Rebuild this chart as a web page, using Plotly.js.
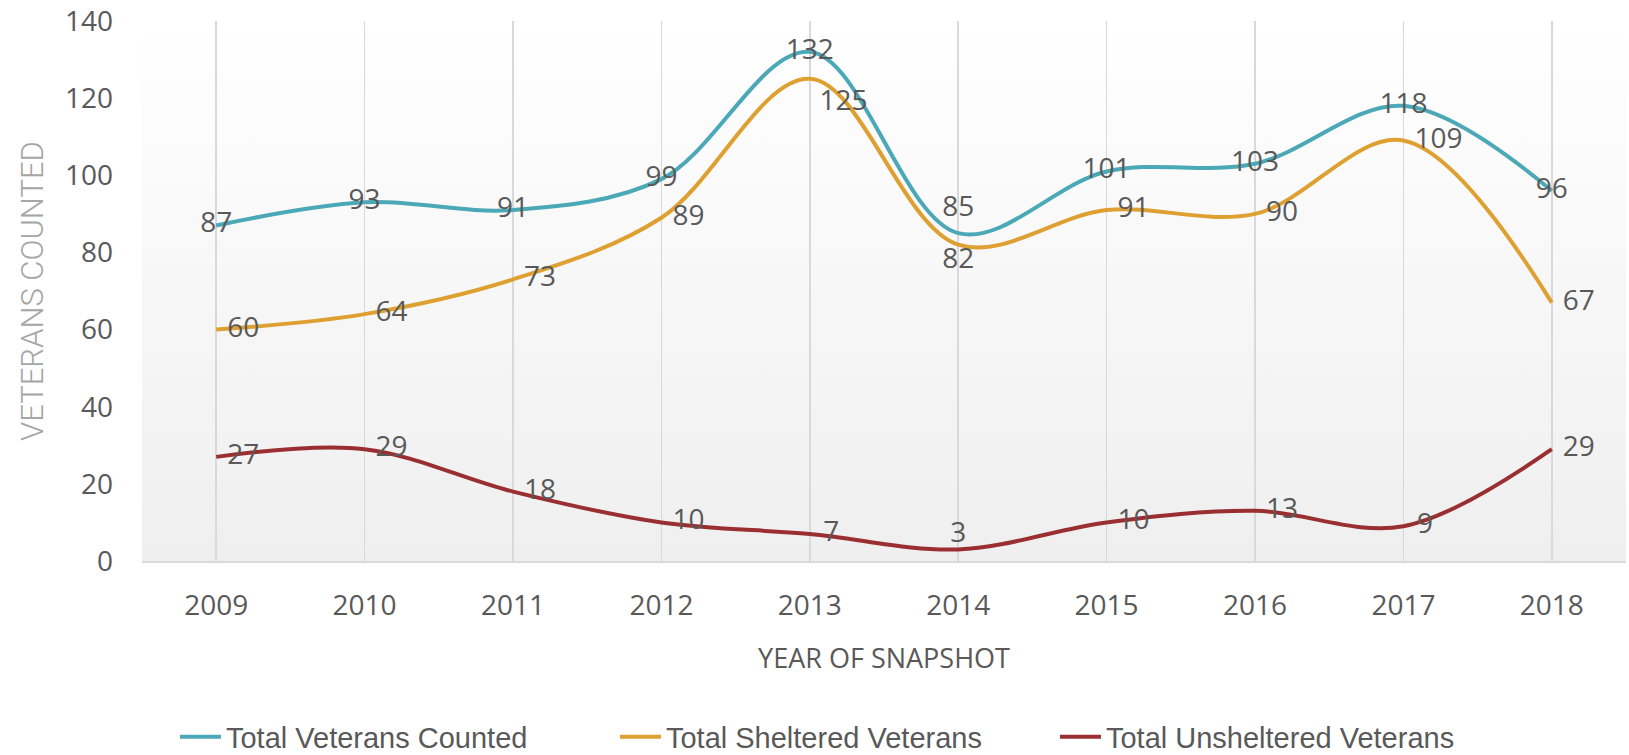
<!DOCTYPE html>
<html>
<head>
<meta charset="utf-8">
<script src="https://cdn.plot.ly/plotly-3.0.1.min.js"></script>
<style>
  html, body { margin: 0; padding: 0; background: #ffffff; }
  #chart { width: 1629px; height: 755px; }
</style>
</head>
<body>
<div id="chart"></div>
<script>
// ---- Data ----
const years = ['2009', '2010', '2011', '2012', '2013', '2014', '2015', '2016', '2017', '2018'];
const totalVeterans = [87, 93, 91, 99, 132, 85, 101, 103, 118, 96];
const shelteredVeterans = [60, 64, 73, 89, 125, 82, 91, 90, 109, 67];
const unshelteredVeterans = [27, 29, 18, 10, 7, 3, 10, 13, 9, 29];
const seriesNames = ['Total Veterans Counted', 'Total Sheltered Veterans', 'Total Unsheltered Veterans'];

// ---- Label placement (style, not data) ----
const totalPos = ['middle center', 'middle center', 'middle center', 'middle center', 'middle center',
                  'top center', 'middle center', 'middle center', 'middle center', 'middle center'];
const shelteredPos = ['middle right', 'middle right', 'middle right', 'middle right', 'bottom right',
                      'bottom center', 'middle right', 'middle right', 'middle right', 'middle right'];
const unshelteredPos = ['middle right', 'middle right', 'middle right', 'middle right', 'middle right',
                        'top center', 'middle right', 'middle right', 'middle right', 'middle right'];
// invisible marker sizes: they only push the labels away from the points
const totalPad = [14, 14, 14, 14, 14, 14, 14, 14, 14, 14];
const shelteredPad = [16, 16, 16, 16, 14, 2, 16, 16, 16, 16];
const unshelteredPad = [16, 16, 16, 16, 20, 0, 16, 16, 20, 16];

const labelFont = { family: 'Open Sans, sans-serif', size: 28, color: '#595959' };

function series(name, values, color, pos, pad) {
  return {
    type: 'scatter',
    mode: 'lines+markers+text',
    name: name,
    x: years,
    y: values,
    text: values.map(String),
    textposition: pos,
    textfont: labelFont,
    line: { color: color, width: 4, shape: 'spline', smoothing: 1 },
    marker: { size: pad, color: 'rgba(0,0,0,0)', line: { width: 0 } },
    hoverinfo: 'skip',
    cliponaxis: false
  };
}

const traces = [
  series(seriesNames[0], totalVeterans, '#4BA8B7', totalPos, totalPad),
  series(seriesNames[1], shelteredVeterans, '#DEA031', shelteredPos, shelteredPad),
  series(seriesNames[2], unshelteredVeterans, '#9A2F32', unshelteredPos, unshelteredPad)
];

const gradSvg = '<svg xmlns="http://www.w3.org/2000/svg" width="100" height="100" preserveAspectRatio="none">' +
  '<defs><linearGradient id="g" x1="0" y1="0" x2="0" y2="1">' +
  '<stop offset="0" stop-color="#ffffff"/><stop offset="1" stop-color="#efefef"/>' +
  '</linearGradient></defs><rect width="100" height="100" fill="url(#g)"/></svg>';

const layout = {
  width: 1629,
  height: 755,
  margin: { l: 142, r: 3, t: 21, b: 194 },
  paper_bgcolor: '#ffffff',
  plot_bgcolor: 'rgba(0,0,0,0)',
  showlegend: true,
  images: [{
    source: 'data:image/svg+xml;charset=utf-8,' + encodeURIComponent(gradSvg),
    xref: 'paper', yref: 'paper', x: 0, y: 1, sizex: 1, sizey: 1,
    xanchor: 'left', yanchor: 'top', sizing: 'stretch', layer: 'below'
  }],
  xaxis: {
    type: 'category',
    range: [-0.5, 9.5],
    showgrid: true,
    gridcolor: '#d9d9d9',
    gridwidth: 1.5,
    showline: true,
    linecolor: '#d9d9d9',
    linewidth: 2,
    zeroline: false,
    ticks: '',
    ticklabelstandoff: 18,
    tickfont: { family: 'Open Sans, sans-serif', size: 28, color: '#595959' },
    title: {
      text: 'YEAR OF SNAPSHOT',
      font: { family: 'Open Sans, sans-serif', size: 27, color: '#595959' },
      standoff: 28
    },
    fixedrange: true
  },
  yaxis: {
    range: [0, 140],
    dtick: 20,
    showgrid: false,
    zeroline: false,
    showline: false,
    ticks: '',
    ticklabelstandoff: 28,
    tickfont: { family: 'Open Sans, sans-serif', size: 28, color: '#595959' },
    title: {
      text: 'VETERANS COUNTED',
      font: { family: 'Roboto, sans-serif', size: 31, color: '#a6a6a6', weight: 300 },
      standoff: 12
    },
    fixedrange: true
  },
  legend: {
    orientation: 'h',
    xref: 'container', yref: 'container',
    x: 0.1074, xanchor: 'left',
    y: 0.024, yanchor: 'middle',
    itemwidth: 41,
    entrywidth: 384,
    font: { family: 'Liberation Sans, Arial, sans-serif', size: 29, color: '#595959' },
    bgcolor: 'rgba(0,0,0,0)'
  }
};

Plotly.newPlot('chart', traces, layout, { displayModeBar: false, staticPlot: true });
</script>
</body>
</html>
